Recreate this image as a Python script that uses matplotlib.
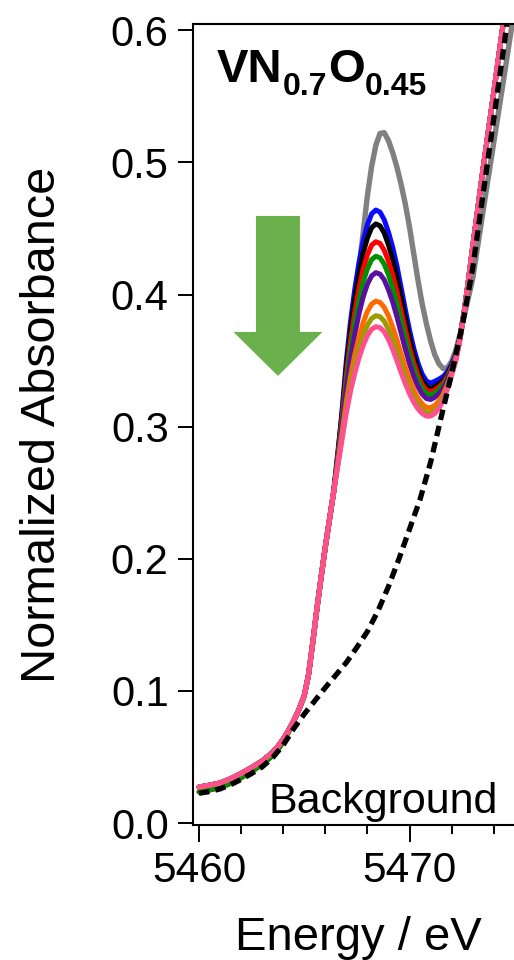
import matplotlib
matplotlib.use("Agg")
import matplotlib.pyplot as plt
from matplotlib.patches import FancyArrow
from matplotlib.ticker import MultipleLocator, FormatStrFormatter

plt.rcParams['font.family'] = ['Liberation Sans', 'DejaVu Sans']

# V K-edge XANES of VN0.7O0.45, energies in eV
# rising edge, shared by all spectra
energy_edge = [5460.0, 5460.5, 5461.0, 5461.5, 5462.0, 5462.5, 5463.0, 5463.5, 5463.75,
               5464.0, 5464.25, 5464.5, 5464.75, 5465.0, 5465.2, 5465.4, 5465.6, 5465.8,
               5466.0, 5466.2, 5466.4]
abs_edge = [0.0272, 0.0286, 0.0303, 0.0335, 0.0375, 0.0420, 0.0470, 0.0535, 0.0580,
            0.0635, 0.0700, 0.0775, 0.0860, 0.0965, 0.1120, 0.1360, 0.1620, 0.1860,
            0.2090, 0.2300, 0.2510]
abs_edge_low = [0.0235, 0.0250, 0.0268, 0.0300, 0.0342, 0.0390, 0.0442, 0.0510, 0.0555,
                0.0615, 0.0688, 0.0770, 0.0860, 0.0965, 0.1120, 0.1360, 0.1620, 0.1860,
                0.2090, 0.2300, 0.2510]

# pre-edge peak region
energy_peak = [5466.6, 5466.8, 5467.0, 5467.2, 5467.4, 5467.6, 5467.8, 5468.0, 5468.2,
               5468.4, 5468.6, 5468.8, 5469.0, 5469.2, 5469.4, 5469.6, 5469.8, 5470.0,
               5470.2, 5470.4, 5470.6, 5470.8, 5471.0, 5471.2, 5471.4, 5471.6, 5471.8,
               5472.0, 5472.2, 5472.4, 5472.6, 5472.8, 5473.0]
peak_gray = [0.2810, 0.3080, 0.3380, 0.3650, 0.3920, 0.4200, 0.4470, 0.4750, 0.4970,
             0.5130, 0.5220, 0.5225, 0.5165, 0.5075, 0.4965, 0.4835, 0.4685, 0.4510,
             0.4310, 0.4110, 0.3930, 0.3780, 0.3650, 0.3545, 0.3475, 0.3440, 0.3445,
             0.3495, 0.3580, 0.3700, 0.3840, 0.3980, 0.4120]
peak_blue = [0.2798, 0.3131, 0.3502, 0.3800, 0.4041, 0.4244, 0.4410, 0.4529, 0.4611,
             0.4640, 0.4624, 0.4566, 0.4472, 0.4358, 0.4219, 0.4053, 0.3887, 0.3730,
             0.3593, 0.3482, 0.3398, 0.3346, 0.3330, 0.3343, 0.3360, 0.3380, 0.3415,
             0.3473, 0.3545, 0.3680, 0.3878, 0.4110, 0.4360]
peak_black = [0.2788, 0.3105, 0.3455, 0.3737, 0.3965, 0.4158, 0.4315, 0.4429, 0.4507,
              0.4535, 0.4520, 0.4465, 0.4376, 0.4266, 0.4133, 0.3976, 0.3818, 0.3669,
              0.3539, 0.3434, 0.3354, 0.3305, 0.3290, 0.3304, 0.3325, 0.3351, 0.3394,
              0.3459, 0.3538, 0.3677, 0.3876, 0.4110, 0.4360]
peak_red = [0.2774, 0.3071, 0.3394, 0.3656, 0.3868, 0.4047, 0.4194, 0.4301, 0.4374,
            0.4400, 0.4387, 0.4335, 0.4252, 0.4148, 0.4023, 0.3878, 0.3735, 0.3600,
            0.3483, 0.3389, 0.3319, 0.3276, 0.3264, 0.3278, 0.3302, 0.3332, 0.3381,
            0.3451, 0.3533, 0.3675, 0.3876, 0.4110, 0.4360]
peak_green = [0.2763, 0.3043, 0.3345, 0.3590, 0.3789, 0.3957, 0.4095, 0.4196, 0.4265,
              0.4290, 0.4278, 0.4230, 0.4150, 0.4052, 0.3934, 0.3799, 0.3666, 0.3543,
              0.3436, 0.3351, 0.3287, 0.3250, 0.3240, 0.3255, 0.3281, 0.3315, 0.3368,
              0.3443, 0.3529, 0.3673, 0.3875, 0.4110, 0.4360]
peak_purple = [0.2751, 0.3012, 0.3289, 0.3515, 0.3699, 0.3855, 0.3983, 0.4079, 0.4142,
               0.4166, 0.4155, 0.4111, 0.4036, 0.3944, 0.3833, 0.3709, 0.3587, 0.3476,
               0.3379, 0.3303, 0.3247, 0.3213, 0.3206, 0.3222, 0.3251, 0.3291, 0.3351,
               0.3432, 0.3523, 0.3670, 0.3874, 0.4110, 0.4360]
peak_orange = [0.2729, 0.2958, 0.3192, 0.3386, 0.3544, 0.3678, 0.3789, 0.3873, 0.3928,
               0.3950, 0.3941, 0.3903, 0.3838, 0.3754, 0.3657, 0.3551, 0.3450, 0.3358,
               0.3279, 0.3217, 0.3172, 0.3146, 0.3143, 0.3161, 0.3195, 0.3245, 0.3318,
               0.3411, 0.3511, 0.3665, 0.3872, 0.4110, 0.4360]
peak_olive = [0.2718, 0.2931, 0.3142, 0.3320, 0.3465, 0.3588, 0.3690, 0.3769, 0.3819,
              0.3840, 0.3832, 0.3798, 0.3736, 0.3658, 0.3567, 0.3471, 0.3378, 0.3295,
              0.3225, 0.3169, 0.3129, 0.3106, 0.3105, 0.3124, 0.3162, 0.3218, 0.3298,
              0.3398, 0.3505, 0.3662, 0.3871, 0.4110, 0.4360]
peak_pink = [0.2710, 0.2910, 0.3105, 0.3270, 0.3405, 0.3520, 0.3615, 0.3690, 0.3737,
             0.3757, 0.3750, 0.3718, 0.3660, 0.3585, 0.3500, 0.3410, 0.3325, 0.3250,
             0.3185, 0.3135, 0.3100, 0.3080, 0.3080, 0.3100, 0.3140, 0.3200, 0.3285,
             0.3390, 0.3500, 0.3660, 0.3870, 0.4110, 0.4360]

# main edge above the pre-edge
energy_top = [5473.5, 5474.0, 5474.5, 5475.0, 5475.5]
abs_top = [0.4960, 0.5530, 0.6110, 0.6700, 0.7290]
abs_top_gray = [0.4640, 0.5150, 0.5660, 0.6180, 0.6700]

# fitted background
energy_bg = [5460.0, 5460.5, 5461.0, 5461.5, 5462.0, 5462.5, 5463.0, 5463.5, 5464.0,
             5464.5, 5465.0, 5465.5, 5466.0, 5466.5, 5467.0, 5467.5, 5468.0, 5468.5,
             5469.0, 5469.5, 5470.0, 5470.5, 5471.0, 5471.5, 5472.0, 5472.5, 5473.0,
             5473.5, 5474.0, 5474.5, 5475.0, 5475.5]
abs_bg = [0.0225, 0.0238, 0.0258, 0.0290, 0.0330, 0.0375, 0.0425, 0.0495, 0.0590,
          0.0715, 0.0825, 0.0925, 0.1025, 0.1120, 0.1215, 0.1330, 0.1450, 0.1605,
          0.1790, 0.2000, 0.2225, 0.2450, 0.2730, 0.3070, 0.3400, 0.3760, 0.4200,
          0.4770, 0.5330, 0.5900, 0.6480, 0.7060]

spectra = [
    (abs_edge, peak_gray, abs_top_gray, '#808080', 3.9),
    (abs_edge, peak_blue, abs_top, '#0a0aff', 3.6),
    (abs_edge, peak_black, abs_top, '#000000', 3.6),
    (abs_edge_low, peak_red, abs_top, '#ff0000', 3.6),
    (abs_edge_low, peak_green, abs_top, '#009000', 3.6),
    (abs_edge, peak_purple, abs_top, '#5a0fa0', 3.6),
    (abs_edge, peak_orange, abs_top, '#ff6a00', 3.6),
    (abs_edge, peak_olive, abs_top, '#9c9c00', 3.6),
    (abs_edge, peak_pink, abs_top, '#ff4f90', 3.6),
]

fig = plt.figure(figsize=(5.14, 9.6), dpi=100)
ax = fig.add_axes([193 / 514, 135 / 960, 330 / 514, 801 / 960])

energy_all = energy_edge + energy_peak + energy_top
for edge, peak, top, col, lw in spectra:
    ax.plot(energy_all, edge + peak + top, color=col, lw=lw,
            solid_joinstyle='round', solid_capstyle='round')
ax.plot(energy_bg, abs_bg, color='black', lw=3.8, ls=(0, (2.0, 1.15)))

ax.set_xlim(5459.715, 5475.39)
ax.set_ylim(-0.0015, 0.6048)

ax.xaxis.set_major_locator(MultipleLocator(10))
ax.xaxis.set_minor_locator(MultipleLocator(2))
ax.yaxis.set_major_locator(MultipleLocator(0.1))
ax.yaxis.set_major_formatter(FormatStrFormatter('%.1f'))
ax.tick_params(axis='x', which='major', direction='out', length=12, width=1.4,
               labelsize=30.5, pad=7)
ax.tick_params(axis='x', which='minor', direction='out', length=6.5, width=1.4)
ax.tick_params(axis='y', which='major', direction='out', length=10.5, width=1.4,
               labelsize=30, pad=7)
for side in ['left', 'bottom', 'top']:
    ax.spines[side].set_linewidth(1.5)
ax.spines['right'].set_visible(False)

ax.set_ylabel('Normalized Absorbance', fontsize=35)
ax.yaxis.set_label_coords(-0.388, 0.5)
ax.set_xlabel('Energy / eV', fontsize=34)
ax.xaxis.set_label_coords(0.5, -0.114)

# sample name with subscripts, placed piece by piece
name_parts = [('VN', 34, 0.0727, 0.9276), ('0.7', 23, 0.2727, 0.9114),
              ('O', 34, 0.4091, 0.9276), ('0.45', 23, 0.5212, 0.9114)]
for txt, size, x, y in name_parts:
    ax.text(x, y, txt, transform=ax.transAxes, fontsize=size,
            fontweight='bold', ha='left', va='baseline')

ax.text(0.230, 0.015, 'Background', transform=ax.transAxes,
        fontsize=31, ha='left', va='baseline')

# decreasing pre-edge intensity
ax.add_patch(FancyArrow(5463.75, 0.4595, 0, -0.1211, width=2.09, head_width=4.23,
                        head_length=0.0333, length_includes_head=True,
                        color='#6ab04c', lw=0))

fig.savefig('out.png', dpi=100)
